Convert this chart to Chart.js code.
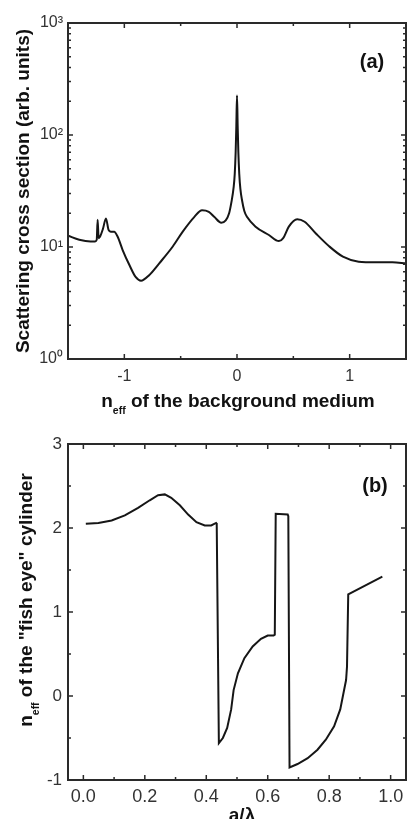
<!DOCTYPE html>
<html>
<head>
<meta charset="utf-8">
<script src="https://cdn.jsdelivr.net/npm/chart.js@4.4.1/dist/chart.umd.min.js"></script>
<style>
html, body { margin: 0; padding: 0; background: #fff; }
#wrap { position: relative; width: 407px; height: 819px; overflow: hidden; }
#wrap canvas { position: absolute; left: 0; }
#scatterChart { top: 0; }
#fishChart { top: 420px; }
</style>
</head>
<body>
<div id="wrap">
  <canvas id="scatterChart" width="407" height="420"></canvas>
  <canvas id="fishChart" width="407" height="399"></canvas>
</div>
<script>
// (a) scattering cross section vs n_eff of background
const scatterX = [-1.5, -1.4, -1.3, -1.26, -1.245, -1.237, -1.228, -1.215, -1.19, -1.163, -1.14, -1.12,
  -1.09, -1.06, -1.015, -0.955, -0.9, -0.852, -0.78, -0.69, -0.57, -0.48, -0.38, -0.31, -0.25, -0.2,
  -0.14, -0.1, -0.07, -0.05, -0.03, -0.02, -0.012, -0.006, 0, 0.006, 0.012, 0.02, 0.03, 0.045, 0.065,
  0.09, 0.165, 0.283, 0.372, 0.41, 0.46, 0.534, 0.6, 0.7, 0.82, 0.94, 1.08, 1.23, 1.38, 1.5];
const scatterY = [12.6, 11.6, 11.2, 11.2, 11.6, 17.5, 12.0, 12.4, 14.5, 18.0, 14.2, 13.7,
  13.7, 12.4, 9.4, 6.9, 5.4, 5.0, 5.6, 7.15, 10.1, 13.8, 18.5, 21.3, 20.6, 18.5,
  16.5, 17.3, 20, 25, 34, 45, 70, 120, 225, 120, 70, 45, 33, 26, 21,
  18.5, 15.2, 12.8, 11.3, 12, 15.2, 17.7, 16.8, 13.2, 10.1, 8.2, 7.4, 7.3, 7.3, 7.15];
const scatterXTicks = [-1.5, -1, -0.5, 0, 0.5, 1, 1.5];
const scatterYTicks = [1, 2, 3, 4, 5, 6, 7, 8, 9, 10, 20, 30, 40, 50, 60, 70, 80, 90,
  100, 200, 300, 400, 500, 600, 700, 800, 900, 1000];

// (b) n_eff of the fish eye cylinder vs a/lambda
const fishX = [0.008, 0.049, 0.092, 0.135, 0.178, 0.216, 0.243, 0.265, 0.286, 0.314, 0.341, 0.368,
  0.395, 0.416, 0.432, 0.434, 0.441, 0.454, 0.468, 0.481, 0.489, 0.503, 0.524, 0.551, 0.578, 0.6,
  0.619, 0.623, 0.626, 0.665, 0.667, 0.671, 0.697, 0.73, 0.762, 0.789, 0.816, 0.836, 0.849, 0.855,
  0.858, 0.862, 0.973];
const fishY = [2.05, 2.06, 2.09, 2.15, 2.24, 2.33, 2.39, 2.40, 2.36, 2.27, 2.16, 2.07,
  2.03, 2.03, 2.06, 2.05, -0.56, -0.50, -0.38, -0.16, 0.07, 0.27, 0.45, 0.59, 0.68, 0.72,
  0.72, 0.73, 2.17, 2.16, 2.14, -0.85, -0.81, -0.74, -0.64, -0.52, -0.36, -0.16, 0.08, 0.19,
  0.35, 1.21, 1.42];
const fishXTicks = [0, 0.1, 0.2, 0.3, 0.4, 0.5, 0.6, 0.7, 0.8, 0.9, 1.0];
const fishYTicks = [-1, -0.5, 0, 0.5, 1, 1.5, 2, 2.5, 3];

const FONT = '"Liberation Sans", Arial, Helvetica, sans-serif';
const SUP = ['\u2070', '\u00b9', '\u00b2', '\u00b3'];

function drawParts(ctx, parts, x, y, size, angle) {
  ctx.save();
  ctx.translate(x, y);
  ctx.rotate(angle);
  ctx.textAlign = 'left';
  ctx.textBaseline = 'alphabetic';
  ctx.fillStyle = '#111';
  let w = 0;
  parts.forEach(p => {
    ctx.font = `bold ${p.sub ? size * 0.55 : size}px ${FONT}`;
    w += ctx.measureText(p.t).width;
  });
  let cx = -w / 2;
  parts.forEach(p => {
    ctx.font = `bold ${p.sub ? size * 0.55 : size}px ${FONT}`;
    ctx.fillText(p.t, cx, p.sub ? size * 0.35 : 0);
    cx += ctx.measureText(p.t).width;
  });
  ctx.restore();
}

// box frame with inward ticks, plus axis titles that need subscripts
function makeFrame(titles) {
  return {
    id: 'frame',
    afterDatasetsDraw(chart) {
      const { ctx, chartArea: a, scales } = chart;
      ctx.save();
      ctx.strokeStyle = '#2a2a2a';
      ctx.lineWidth = 1.5;
      ctx.beginPath();
      scales.x.ticks.forEach(t => {
        const px = scales.x.getPixelForValue(t.value);
        const len = t.label ? 5 : 3;
        ctx.moveTo(px, a.bottom); ctx.lineTo(px, a.bottom - len);
        ctx.moveTo(px, a.top); ctx.lineTo(px, a.top + len);
      });
      scales.y.ticks.forEach(t => {
        const py = scales.y.getPixelForValue(t.value);
        const len = t.label ? 5 : 3;
        ctx.moveTo(a.left, py); ctx.lineTo(a.left + len, py);
        ctx.moveTo(a.right, py); ctx.lineTo(a.right - len, py);
      });
      ctx.stroke();
      ctx.lineWidth = 2;
      ctx.strokeRect(a.left, a.top, a.right - a.left, a.bottom - a.top);
      ctx.restore();
    },
    afterDraw(chart) {
      titles.forEach(tt => drawParts(chart.ctx, tt.parts, tt.x, tt.y, tt.size, tt.angle || 0));
    }
  };
}

// keep the plot box where the reference has it
const fixX = h => s => { s.height = h; s.paddingLeft = 0; s.paddingRight = 0; };
const fixY = w => s => { s.width = w; s.paddingTop = 0; s.paddingBottom = 0; };

const lineStyle = {
  borderColor: '#161616',
  borderWidth: 2,
  pointRadius: 0,
  showLine: true,
  fill: false
};

new Chart(document.getElementById('scatterChart'), {
  type: 'scatter',
  data: {
    datasets: [{
      ...lineStyle,
      data: scatterX.map((x, i) => ({ x, y: scatterY[i] })),
      cubicInterpolationMode: 'monotone'
    }]
  },
  options: {
    responsive: false,
    animation: false,
    layout: { padding: { top: 23, right: 1, left: 0, bottom: 0 } },
    plugins: { legend: { display: false }, tooltip: { enabled: false } },
    scales: {
      x: {
        type: 'linear', min: -1.5, max: 1.5,
        grid: { display: false, drawTicks: false },
        border: { display: false },
        afterBuildTicks: s => { s.ticks = scatterXTicks.map(v => ({ value: v })); },
        afterFit: fixX(61),
        ticks: {
          autoSkip: false, maxRotation: 0, padding: 8, color: '#333',
          font: { family: FONT, size: 16 },
          callback: v => Number.isInteger(v) ? String(v) : ''
        }
      },
      y: {
        type: 'logarithmic', min: 1, max: 1000,
        grid: { display: false, drawTicks: false },
        border: { display: false },
        afterBuildTicks: s => { s.ticks = scatterYTicks.map(v => ({ value: v })); },
        afterFit: fixY(68),
        ticks: {
          autoSkip: false, padding: 5, color: '#333',
          font: { family: FONT, size: 16 },
          callback: v => {
            const e = Math.round(Math.log10(v));
            return Math.abs(Math.pow(10, e) - v) < 1e-9 ? '10' + SUP[e] : '';
          }
        }
      }
    }
  },
  plugins: [makeFrame([
    { parts: [{ t: 'n' }, { t: 'eff', sub: true }, { t: ' of the background medium' }], x: 238, y: 407, size: 19 },
    { parts: [{ t: 'Scattering cross section (arb. units)' }], x: 29, y: 191, size: 19, angle: -Math.PI / 2 },
    { parts: [{ t: '(a)' }], x: 372, y: 68, size: 20 }
  ])]
});

new Chart(document.getElementById('fishChart'), {
  type: 'scatter',
  data: {
    datasets: [{
      ...lineStyle,
      data: fishX.map((x, i) => ({ x, y: fishY[i] })),
      tension: 0
    }]
  },
  options: {
    responsive: false,
    animation: false,
    layout: { padding: { top: 24, right: 1, left: 0, bottom: 0 } },
    plugins: { legend: { display: false }, tooltip: { enabled: false } },
    scales: {
      x: {
        type: 'linear', min: -0.05, max: 1.05,
        grid: { display: false, drawTicks: false },
        border: { display: false },
        afterBuildTicks: s => { s.ticks = fishXTicks.map(v => ({ value: v })); },
        afterFit: fixX(39),
        ticks: {
          autoSkip: false, maxRotation: 0, padding: 6, color: '#333',
          font: { family: FONT, size: 18 },
          callback: v => Math.abs(v * 5 - Math.round(v * 5)) < 1e-6 ? v.toFixed(1) : ''
        }
      },
      y: {
        type: 'linear', min: -1, max: 3,
        grid: { display: false, drawTicks: false },
        border: { display: false },
        afterBuildTicks: s => { s.ticks = fishYTicks.map(v => ({ value: v })); },
        afterFit: fixY(68),
        ticks: {
          autoSkip: false, padding: 6, color: '#333',
          font: { family: FONT, size: 17 },
          callback: v => Number.isInteger(v) ? String(v) : ''
        }
      }
    }
  },
  plugins: [makeFrame([
    { parts: [{ t: 'n' }, { t: 'eff', sub: true }, { t: ' of the "fish eye" cylinder' }], x: 32, y: 180, size: 19, angle: -Math.PI / 2 },
    { parts: [{ t: 'a/\u03bb' }], x: 242, y: 401, size: 19 },
    { parts: [{ t: '(b)' }], x: 375, y: 72, size: 20 }
  ])]
});
</script>
</body>
</html>
